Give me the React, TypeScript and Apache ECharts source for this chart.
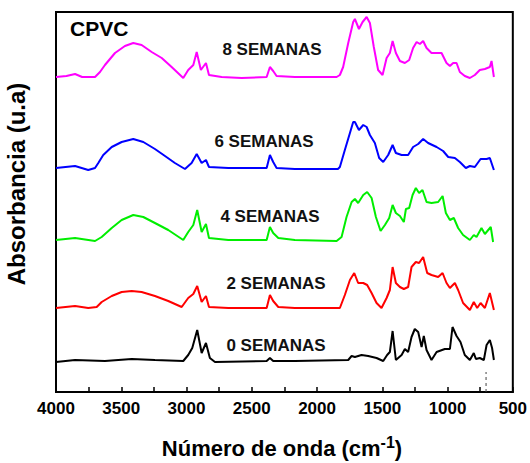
import React, { useEffect, useRef } from "react";
import * as echarts from "echarts";

// Wavenumber (cm-1) vs absorbance (arbitrary units, stacked offsets as in the figure)
const semanas0: [number, number][] = [
  [4000, 30], [3854, 32], [3625, 31], [3420, 33], [3242, 32], [3025, 31], [2987, 37], [2956, 44],
  [2918, 62], [2884, 39], [2851, 49], [2821, 34], [2782, 30], [2386, 31], [2361, 34], [2336, 31],
  [2170, 31], [1761, 32], [1735, 36], [1710, 35], [1659, 37], [1608, 36], [1544, 34], [1493, 31],
  [1463, 37], [1442, 40], [1421, 61], [1396, 32], [1352, 37], [1327, 43], [1302, 40], [1276, 55],
  [1251, 63], [1225, 60], [1199, 45], [1182, 56], [1161, 42], [1123, 32], [1084, 40], [1021, 43],
  [982, 43], [962, 65], [931, 56], [901, 50], [868, 37], [829, 32], [799, 39], [783, 33],
  [753, 34], [722, 32], [701, 47], [676, 52], [659, 44], [645, 32],
];

const semanas2: [number, number][] = [
  [4000, 84], [3854, 86], [3753, 84], [3688, 85], [3650, 90], [3573, 96], [3497, 100], [3420, 101],
  [3344, 100], [3242, 96], [3140, 91], [3037, 85], [2987, 94], [2948, 98], [2918, 106], [2884, 90],
  [2851, 96], [2828, 85], [2680, 84], [2386, 84], [2361, 97], [2336, 91], [2297, 85], [2170, 84],
  [1825, 84], [1787, 97], [1748, 112], [1715, 119], [1685, 109], [1646, 109], [1616, 107], [1582, 99],
  [1544, 89], [1506, 84], [1467, 94], [1442, 102], [1421, 125], [1396, 109], [1365, 105], [1335, 103],
  [1302, 105], [1276, 125], [1243, 130], [1218, 129], [1187, 135], [1156, 119], [1123, 117], [1072, 115],
  [1038, 119], [1008, 109], [982, 104], [944, 109], [919, 102], [881, 89], [829, 82], [799, 90],
  [773, 84], [747, 89], [714, 84], [676, 99], [645, 82],
];

const semanas4: [number, number][] = [
  [4000, 152], [3854, 154], [3701, 151], [3650, 155], [3573, 164], [3497, 172], [3408, 177], [3331, 175],
  [3242, 169], [3140, 162], [3025, 152], [2987, 160], [2948, 167], [2918, 182], [2884, 160], [2851, 168],
  [2828, 154], [2680, 152], [2386, 152], [2361, 165], [2336, 159], [2297, 154], [2170, 152], [1850, 151],
  [1812, 155], [1774, 175], [1735, 190], [1710, 193], [1685, 189], [1646, 197], [1616, 200], [1582, 194],
  [1549, 175], [1513, 161], [1480, 167], [1447, 174], [1421, 187], [1396, 179], [1365, 176], [1335, 170],
  [1319, 183], [1294, 184], [1268, 197], [1243, 204], [1218, 199], [1192, 202], [1161, 190], [1123, 189],
  [1072, 190], [1038, 196], [1013, 179], [982, 172], [952, 174], [919, 164], [881, 157], [829, 152],
  [799, 157], [778, 155], [740, 164], [714, 158], [669, 165], [651, 150],
];

const semanas6: [number, number][] = [
  [4000, 224], [3854, 226], [3753, 222], [3701, 224], [3676, 229], [3638, 237], [3573, 245], [3497, 250],
  [3408, 253], [3331, 250], [3242, 243], [3165, 236], [3089, 229], [3012, 223], [2961, 229], [2922, 238],
  [2884, 229], [2851, 232], [2828, 225], [2680, 224], [2386, 224], [2361, 237], [2336, 230], [2310, 224],
  [2170, 223], [1840, 223], [1825, 225], [1787, 242], [1748, 259], [1723, 270], [1710, 270], [1679, 262],
  [1646, 267], [1620, 265], [1595, 257], [1557, 249], [1524, 234], [1493, 230], [1455, 237], [1421, 247],
  [1396, 239], [1352, 237], [1302, 237], [1264, 245], [1225, 248], [1187, 253], [1149, 249], [1084, 245],
  [1034, 241], [995, 235], [944, 234], [906, 230], [860, 224], [829, 226], [791, 225], [747, 233],
  [701, 233], [676, 234], [645, 222],
];

const semanas8: [number, number][] = [
  [4000, 315], [3920, 316], [3854, 318], [3800, 315], [3701, 315], [3663, 320], [3625, 327], [3548, 339],
  [3472, 346], [3408, 349], [3344, 347], [3267, 340], [3190, 334], [3114, 325], [3025, 314], [2987, 322],
  [2948, 327], [2922, 340], [2890, 322], [2851, 329], [2828, 317], [2731, 315], [2578, 314], [2386, 315],
  [2361, 325], [2336, 321], [2310, 316], [2170, 315], [1850, 315], [1825, 317], [1800, 325], [1761, 349],
  [1723, 370], [1710, 373], [1679, 363], [1651, 370], [1620, 375], [1595, 369], [1565, 345], [1532, 322],
  [1498, 317], [1467, 334], [1442, 339], [1421, 351], [1396, 339], [1365, 331], [1327, 329], [1294, 332],
  [1264, 344], [1237, 350], [1212, 348], [1187, 351], [1161, 344], [1123, 339], [1046, 339], [1008, 329],
  [982, 326], [957, 329], [931, 329], [906, 320], [868, 316], [829, 314], [791, 317], [753, 322],
  [714, 323], [676, 325], [663, 331], [645, 315],
];

const seriesNames = ["0 SEMANAS", "2 SEMANAS", "4 SEMANAS", "6 SEMANAS", "8 SEMANAS"];
const seriesData = [semanas0, semanas2, semanas4, semanas6, semanas8];
const seriesColors = ["#000000", "#ff0000", "#00ee00", "#0000ff", "#ff00ff"];

// dashed reference mark near the bottom axis
const dashedMark: [number, number][] = [[705, 0], [705, 20]];

const xMin = 500;
const xMax = 4000;
const xInterval = 500;
const yMin = 0;
const yMax = 380;

const FONT = '"Liberation Sans", Arial, sans-serif';

export default function App() {
  const ref = useRef<HTMLDivElement>(null);
  useEffect(() => {
    if (!ref.current) return;
    const chart = echarts.init(ref.current, null, { renderer: "svg" });
    const labelPos: [number, number][] = [
      [276, 345],
      [276, 283],
      [270, 216],
      [264, 141],
      [272, 49],
    ];
    chart.setOption({
      animation: false,
      backgroundColor: "#ffffff",
      grid: {
        left: 56,
        right: 17,
        top: 12,
        bottom: 71,
        show: true,
        borderColor: "#000",
        borderWidth: 2,
        backgroundColor: "transparent",
      },
      xAxis: {
        type: "value",
        inverse: true,
        min: xMin,
        max: xMax,
        interval: xInterval,
        axisLine: { show: true, lineStyle: { color: "#000", width: 2 } },
        axisTick: { show: true, inside: true, length: 5, lineStyle: { color: "#000", width: 1.5 } },
        minorTick: { show: true, splitNumber: 2, length: 5, lineStyle: { color: "#000", width: 1.5 } },
        axisLabel: {
          color: "#000",
          fontSize: 17,
          fontWeight: "bold",
          fontFamily: FONT,
          margin: 8,
          formatter: (v: number) => String(v),
        },
        splitLine: { show: false },
      },
      yAxis: {
        type: "value",
        min: yMin,
        max: yMax,
        axisLine: { show: true, lineStyle: { color: "#000", width: 2 } },
        axisTick: { show: false },
        axisLabel: { show: false },
        splitLine: { show: false },
      },
      series: [
        ...seriesData.map((d, i) => ({
          name: seriesNames[i],
          type: "line",
          data: d,
          showSymbol: false,
          symbol: "none",
          lineStyle: { color: seriesColors[i], width: 2 },
          itemStyle: { color: seriesColors[i] },
          z: 3,
        })),
        {
          name: "marca",
          type: "line",
          data: dashedMark,
          showSymbol: false,
          symbol: "none",
          lineStyle: { color: "#444", width: 1, type: [3, 3] },
          z: 2,
        },
      ],
      graphic: [
        {
          type: "text",
          left: 70,
          top: 18,
          style: { text: "CPVC", font: `bold 21px ${FONT}`, fill: "#000" },
        },
        ...seriesNames.map((n, i) => ({
          type: "text",
          x: labelPos[i][0],
          y: labelPos[i][1],
          style: {
            text: n,
            font: `bold 17px ${FONT}`,
            fill: "#111",
            textAlign: "center",
            textVerticalAlign: "middle",
          },
        })),
        {
          type: "text",
          x: 16,
          y: 184,
          rotation: Math.PI / 2,
          style: {
            text: "Absorbancia (u.a)",
            font: `bold 24px ${FONT}`,
            fill: "#000",
            textAlign: "center",
            textVerticalAlign: "middle",
          },
        },
        {
          type: "text",
          x: 282,
          y: 448,
          style: {
            text: "Número de onda (cm{sup|-1})",
            font: `bold 22px ${FONT}`,
            fill: "#000",
            textAlign: "center",
            textVerticalAlign: "middle",
            rich: {
              sup: {
                font: `bold 16px ${FONT}`,
                fill: "#000",
                verticalAlign: "bottom",
                padding: [0, 0, 12, 0],
              },
            },
          },
        },
      ],
    });
    return () => chart.dispose();
  }, []);
  return (
    <div
      ref={ref}
      style={{ position: "absolute", left: 0, top: 0, width: 530, height: 463, background: "#fff" }}
    />
  );
}
